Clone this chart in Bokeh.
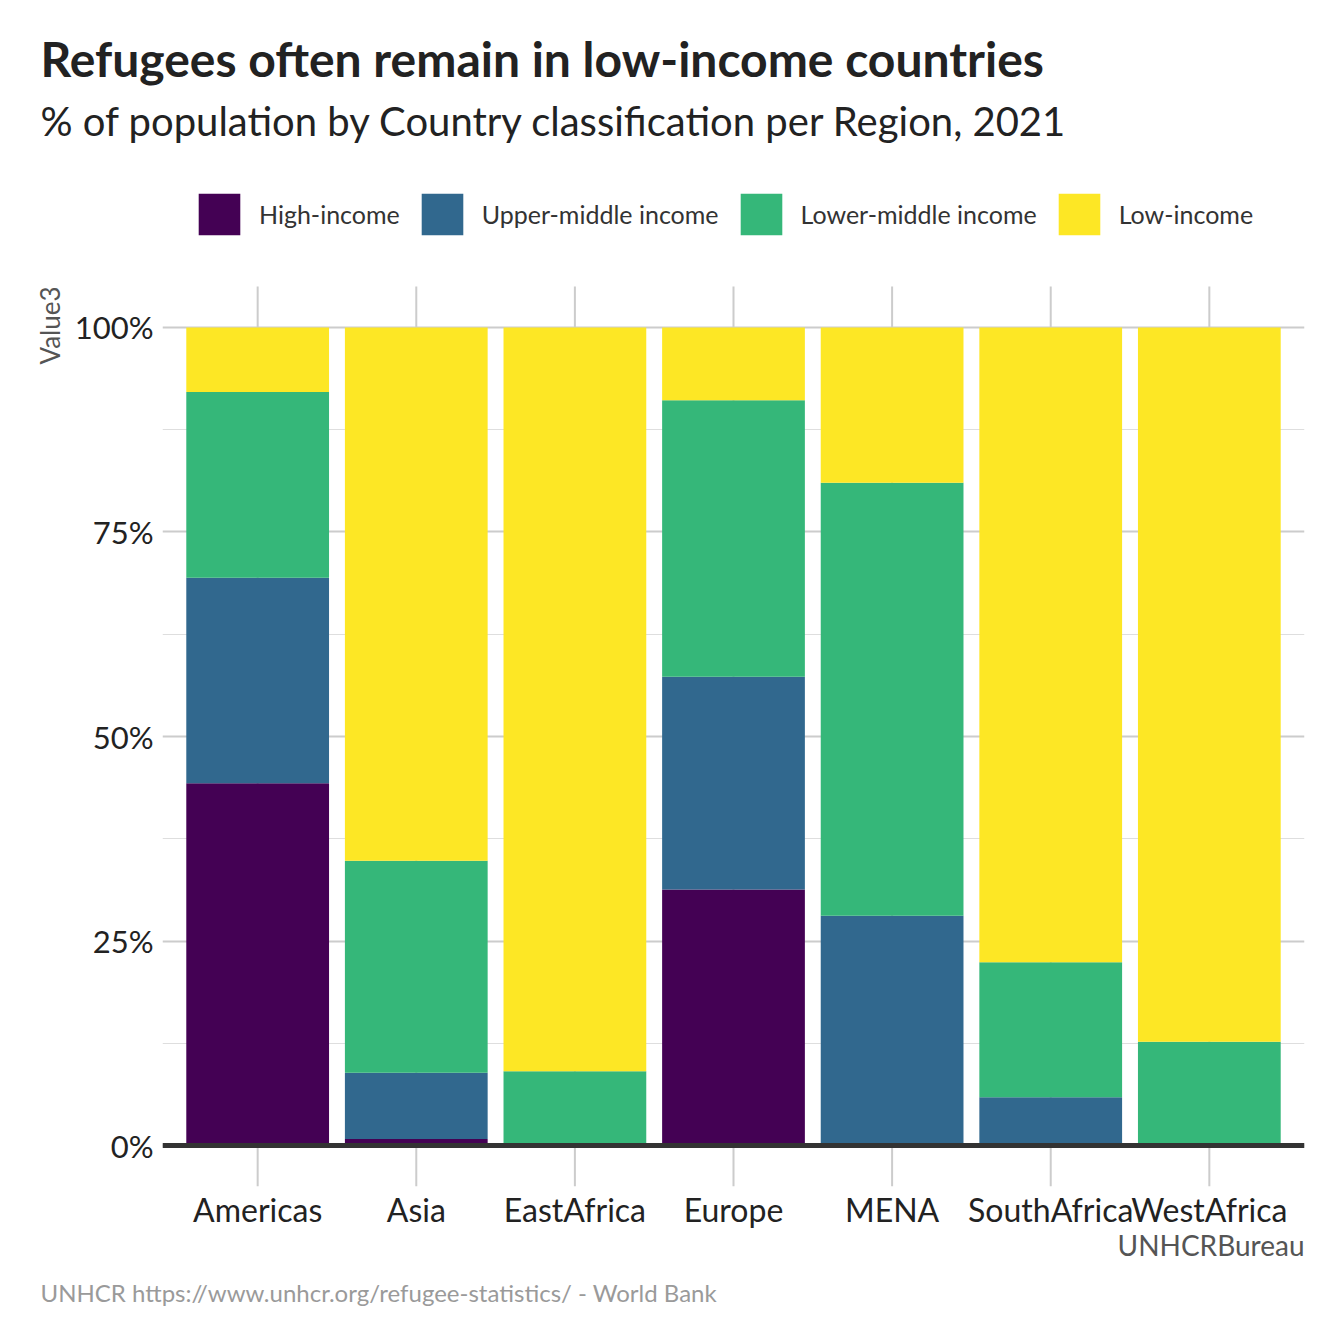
from bokeh.plotting import figure
from bokeh.models import (ColumnDataSource, Range1d, FixedTicker, Legend,
                          LegendItem, Span, CustomJSTickFormatter, Title)
from bokeh.embed import file_html
from bokeh.resources import INLINE

# ---------------- data ----------------
regions = ["Americas", "Asia", "EastAfrica", "Europe", "MENA", "SouthAfrica", "WestAfrica"]
classes = ["High-income", "Upper-middle income", "Lower-middle income", "Low-income"]
high_income = [44.3, 0.8, 0.0, 31.3, 0.0, 0.0, 0.0]
upper_middle = [25.1, 8.1, 0.0, 26.0, 28.1, 5.9, 0.0]
lower_middle = [22.7, 25.9, 9.1, 33.8, 52.9, 16.5, 12.7]
low_income = [7.9, 65.2, 90.9, 8.9, 19.0, 77.6, 87.3]
colors = ["#440154", "#31688E", "#35B779", "#FDE725"]
y_ticks = [0, 25, 50, 75, 100]
y_minor = [12.5, 37.5, 62.5, 87.5]

title = "Refugees often remain in low-income countries"
subtitle = "% of population by Country classification per Region, 2021"
caption = "UNHCR https://www.unhcr.org/refugee-statistics/ - World Bank"
x_title = "UNHCRBureau"
y_title = "Value3"

FONT = "Lato"

pos = list(range(1, len(regions) + 1))
source = ColumnDataSource(dict(x=pos, high=high_income, upper=upper_middle,
                               lower=lower_middle, low=low_income))

# panel (ggplot style) limits: 5% expansion around 0..100
Y_LO, Y_HI = -5.0, 105.0
PX_PER_UNIT = 900 / (Y_HI - Y_LO)
FL, FT, FB = 162, 157, 1186          # frame left/top/bottom in px; frame top holds the legend
FW, FH = 1142, FB - FT
Y_TOP = Y_LO + FH / PX_PER_UNIT

p = figure(frame_width=FW, frame_height=FH,
           min_border_left=FL, min_border_right=24, min_border_top=FT, min_border_bottom=142,
           x_range=Range1d(0.4, len(regions) + 0.6), y_range=Range1d(Y_LO, Y_TOP),
           output_backend="svg", toolbar_location=None, tools="")
p.outline_line_color = None
p.background_fill_color = "white"
p.border_fill_color = "white"

# vertical grid lines limited to the panel height
p.segment(x0=pos, x1=pos, y0=[Y_LO] * len(pos), y1=[Y_HI] * len(pos),
          line_color="#cccccc", line_width=2)

renderers = p.vbar_stack(["high", "upper", "lower", "low"], x="x", width=0.9,
                         color=colors, source=source, line_color=None)

# baseline
p.add_layout(Span(location=0, dimension="width", line_color="#333333", line_width=5))

# axes
p.xaxis.ticker = FixedTicker(ticks=pos)
p.xaxis.major_label_overrides = {i: r for i, r in zip(pos, regions)}
p.yaxis.ticker = FixedTicker(ticks=y_ticks, minor_ticks=y_minor)
p.yaxis.formatter = CustomJSTickFormatter(code="return tick + '%';")
for ax in (p.xaxis[0], p.yaxis[0]):
    ax.axis_line_color = None
    ax.major_tick_line_color = None
    ax.minor_tick_line_color = None
    ax.major_tick_in = 0
    ax.major_tick_out = 0
    ax.minor_tick_in = 0
    ax.minor_tick_out = 0
    ax.major_label_text_font = FONT
    ax.major_label_text_color = "#222222"
p.xaxis.major_label_text_font_size = "32px"
p.yaxis.major_label_text_font_size = "31px"
p.xaxis.major_label_standoff = 3
p.yaxis.major_label_standoff = 9

p.xgrid.grid_line_color = None
p.ygrid.grid_line_color = "#cccccc"
p.ygrid.grid_line_width = 2
p.ygrid.minor_grid_line_color = "#dedede"
p.ygrid.minor_grid_line_width = 1.2

# legend at the top of the frame
legend = Legend(items=[LegendItem(label=c, renderers=[r]) for c, r in zip(classes, renderers)],
                orientation="horizontal", location="top_left",
                glyph_width=52, glyph_height=52, label_standoff=14, spacing=16,
                padding=0, margin=31, border_line_color=None, background_fill_alpha=0,
                label_text_font=FONT, label_text_font_size="25px", label_text_color="#333333")
p.add_layout(legend, "center")

# subtitle then title (further out)
p.add_layout(Title(text=subtitle, text_font=FONT, text_font_size="40px", text_font_style="normal",
                   text_color="#222222", align="left", offset=40 - FL, standoff=25), "above")
p.add_layout(Title(text=title, text_font=FONT, text_font_size="48px", text_font_style="bold",
                   text_color="#222222", align="left", offset=40 - FL, standoff=-8.4), "above")

# y axis title, right-aligned to the panel top
p.add_layout(Title(text=y_title, text_font=FONT, text_font_size="26px", text_font_style="normal",
                   text_color="#555555", align="right", offset=(Y_TOP - Y_HI) * PX_PER_UNIT,
                   standoff=12), "left")

# x axis title and caption below
p.add_layout(Title(text=x_title, text_font=FONT, text_font_size="28px", text_font_style="normal",
                   text_color="#555555", align="right", offset=0, standoff=-8,
                   vertical_align="top"), "below")
p.add_layout(Title(text=caption, text_font=FONT, text_font_size="24px", text_font_style="normal",
                   text_color="#9a9a9a", align="left", offset=40 - FL, standoff=36.6,
                   vertical_align="top"), "below")

open("out.html", "w").write(file_html(p, INLINE))
